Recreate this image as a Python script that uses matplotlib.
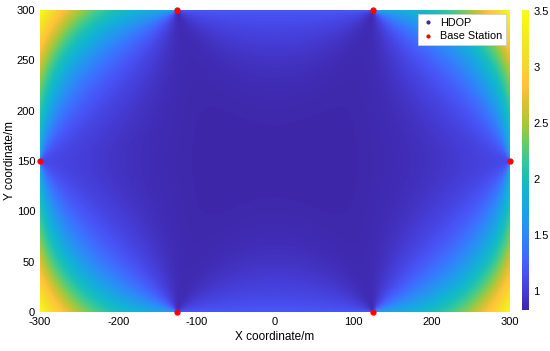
import numpy as np
import matplotlib
matplotlib.use('Agg')
import matplotlib.pyplot as plt
from matplotlib.colors import LinearSegmentedColormap
from matplotlib.lines import Line2D

plt.rcParams['font.family'] = ['Liberation Sans', 'DejaVu Sans']
plt.rcParams['axes.unicode_minus'] = False

# base station positions (m)
bs_x = [-125, 125, -300, 300, -125, 125]
bs_y = [300, 300, 150, 150, 0, 0]

x_range = [-300, 300]
y_range = [0, 300]
cbar_ticks = [1, 1.5, 2, 2.5, 3, 3.5]

# parula-like colormap (MATLAB default)
parula = LinearSegmentedColormap.from_list('parula', [
    (0.000, (0.2422, 0.1504, 0.6603)),
    (0.060, (0.2710, 0.2350, 0.8400)),
    (0.125, (0.2810, 0.3228, 0.9579)),
    (0.190, (0.2400, 0.4300, 0.9950)),
    (0.250, (0.1786, 0.5289, 0.9682)),
    (0.310, (0.1200, 0.6150, 0.9100)),
    (0.375, (0.0689, 0.6948, 0.8394)),
    (0.440, (0.0900, 0.7450, 0.7300)),
    (0.500, (0.2161, 0.7843, 0.5923)),
    (0.560, (0.4200, 0.7950, 0.4000)),
    (0.625, (0.6720, 0.7793, 0.2227)),
    (0.690, (0.8700, 0.7500, 0.2000)),
    (0.750, (0.9970, 0.7659, 0.2199)),
    (0.875, (0.9565, 0.8840, 0.1486)),
    (1.000, (0.9769, 0.9839, 0.0805)),
])

# HDOP over the area (TDOA geometry, i.e. TOA with unknown offset)
xs = np.linspace(x_range[0], x_range[1], 601)
ys = np.linspace(y_range[0], y_range[1], 301)
X, Y = np.meshgrid(xs, ys)
ux = []
uy = []
for bx, by in zip(bs_x, bs_y):
    dx = X - bx
    dy = Y - by
    r = np.hypot(dx, dy)
    r[r == 0] = 1e-9
    ux.append(dx / r)
    uy.append(dy / r)
ux = np.array(ux)
uy = np.array(uy)
ux = ux - ux.mean(axis=0)
uy = uy - uy.mean(axis=0)
sxx = (ux * ux).sum(axis=0)
syy = (uy * uy).sum(axis=0)
sxy = (ux * uy).sum(axis=0)
det = sxx * syy - sxy ** 2
hdop = np.sqrt((sxx + syy) / det)

fig = plt.figure(figsize=(5.5, 3.51), dpi=100)
ax = fig.add_axes([40 / 550, 1 - 312 / 351, 470 / 550, 302 / 351])
cax = fig.add_axes([521.5 / 550, 1 - 310 / 351, 7.5 / 550, 300 / 351])

im = ax.pcolormesh(X, Y, hdop, cmap=parula, shading='auto', rasterized=True)
ax.plot(bs_x, bs_y, '.', color='red', markersize=7, clip_on=False, zorder=5)
ax.set_xlim(x_range)
ax.set_ylim(y_range)
ax.set_xticks(np.arange(-300, 301, 100))
ax.set_yticks(np.arange(0, 301, 50))
for s in ax.spines.values():
    s.set_visible(False)
ax.tick_params(length=0, labelsize=8, pad=3.5)
ax.set_xlabel('X coordinate/m', fontsize=8.5, labelpad=3)
ax.set_ylabel('Y coordinate/m', fontsize=8.5)
ax.yaxis.set_label_coords(-0.051, 0.5)

handles = [
    Line2D([], [], ls='', marker='.', color=(0.24, 0.15, 0.66), markersize=4, label='HDOP'),
    Line2D([], [], ls='', marker='.', color='red', markersize=4, label='Base Station'),
]
leg = ax.legend(handles=handles, loc='upper right', fontsize=7.8, fancybox=False,
                framealpha=1, edgecolor='#d0d0d0', handlelength=1.2, handletextpad=0.5,
                borderaxespad=0.35, borderpad=0.35, labelspacing=0.35)
leg.get_frame().set_linewidth(0.6)

cb = fig.colorbar(im, cax=cax, ticks=cbar_ticks)
cb.outline.set_visible(False)
cb.ax.tick_params(length=0, labelsize=8, pad=3)
cb.ax.set_yticklabels(['1', '1.5', '2', '2.5', '3', '3.5'])

fig.savefig('out.png', dpi=100)
